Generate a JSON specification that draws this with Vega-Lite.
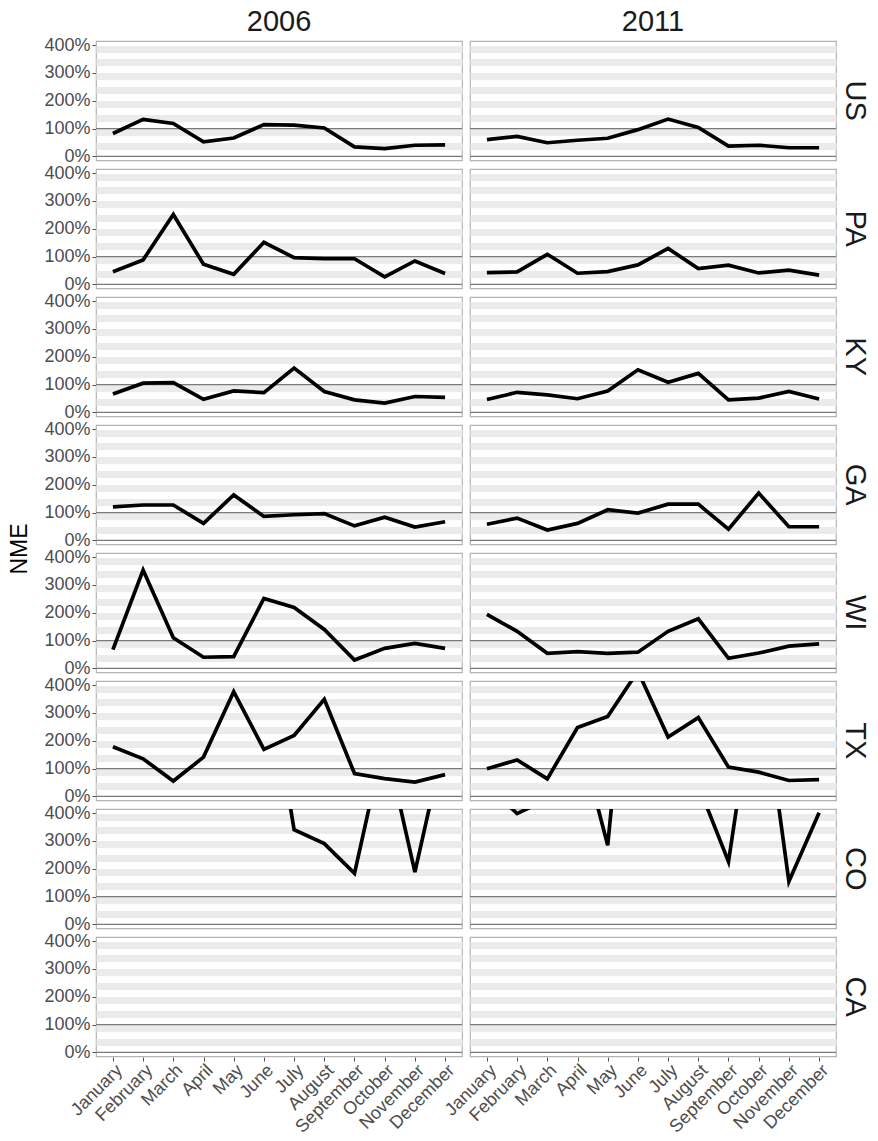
{
  "$schema": "https://vega.github.io/schema/vega-lite/v6.json",
  "background": "white",
  "padding": {"left": 9, "top": 8, "right": 2, "bottom": 2},
  "bounds": "flush",
  "data": {"values": [
    {"state":"US","year":"2006","month":"January","nme":0.82},
    {"state":"US","year":"2006","month":"February","nme":1.33},
    {"state":"US","year":"2006","month":"March","nme":1.18},
    {"state":"US","year":"2006","month":"April","nme":0.52},
    {"state":"US","year":"2006","month":"May","nme":0.66},
    {"state":"US","year":"2006","month":"June","nme":1.14},
    {"state":"US","year":"2006","month":"July","nme":1.12},
    {"state":"US","year":"2006","month":"August","nme":1.02},
    {"state":"US","year":"2006","month":"September","nme":0.34},
    {"state":"US","year":"2006","month":"October","nme":0.28},
    {"state":"US","year":"2006","month":"November","nme":0.40},
    {"state":"US","year":"2006","month":"December","nme":0.41},
    {"state":"US","year":"2011","month":"January","nme":0.60},
    {"state":"US","year":"2011","month":"February","nme":0.72},
    {"state":"US","year":"2011","month":"March","nme":0.49},
    {"state":"US","year":"2011","month":"April","nme":0.58},
    {"state":"US","year":"2011","month":"May","nme":0.65},
    {"state":"US","year":"2011","month":"June","nme":0.96},
    {"state":"US","year":"2011","month":"July","nme":1.34},
    {"state":"US","year":"2011","month":"August","nme":1.04},
    {"state":"US","year":"2011","month":"September","nme":0.37},
    {"state":"US","year":"2011","month":"October","nme":0.40},
    {"state":"US","year":"2011","month":"November","nme":0.31},
    {"state":"US","year":"2011","month":"December","nme":0.31},
    {"state":"PA","year":"2006","month":"January","nme":0.45},
    {"state":"PA","year":"2006","month":"February","nme":0.88},
    {"state":"PA","year":"2006","month":"March","nme":2.51},
    {"state":"PA","year":"2006","month":"April","nme":0.72},
    {"state":"PA","year":"2006","month":"May","nme":0.36},
    {"state":"PA","year":"2006","month":"June","nme":1.51},
    {"state":"PA","year":"2006","month":"July","nme":0.96},
    {"state":"PA","year":"2006","month":"August","nme":0.92},
    {"state":"PA","year":"2006","month":"September","nme":0.92},
    {"state":"PA","year":"2006","month":"October","nme":0.27},
    {"state":"PA","year":"2006","month":"November","nme":0.84},
    {"state":"PA","year":"2006","month":"December","nme":0.39},
    {"state":"PA","year":"2011","month":"January","nme":0.42},
    {"state":"PA","year":"2011","month":"February","nme":0.45},
    {"state":"PA","year":"2011","month":"March","nme":1.08},
    {"state":"PA","year":"2011","month":"April","nme":0.40},
    {"state":"PA","year":"2011","month":"May","nme":0.46},
    {"state":"PA","year":"2011","month":"June","nme":0.70},
    {"state":"PA","year":"2011","month":"July","nme":1.29},
    {"state":"PA","year":"2011","month":"August","nme":0.57},
    {"state":"PA","year":"2011","month":"September","nme":0.69},
    {"state":"PA","year":"2011","month":"October","nme":0.41},
    {"state":"PA","year":"2011","month":"November","nme":0.51},
    {"state":"PA","year":"2011","month":"December","nme":0.33},
    {"state":"KY","year":"2006","month":"January","nme":0.66},
    {"state":"KY","year":"2006","month":"February","nme":1.05},
    {"state":"KY","year":"2006","month":"March","nme":1.07},
    {"state":"KY","year":"2006","month":"April","nme":0.47},
    {"state":"KY","year":"2006","month":"May","nme":0.77},
    {"state":"KY","year":"2006","month":"June","nme":0.71},
    {"state":"KY","year":"2006","month":"July","nme":1.59},
    {"state":"KY","year":"2006","month":"August","nme":0.75},
    {"state":"KY","year":"2006","month":"September","nme":0.45},
    {"state":"KY","year":"2006","month":"October","nme":0.33},
    {"state":"KY","year":"2006","month":"November","nme":0.57},
    {"state":"KY","year":"2006","month":"December","nme":0.54},
    {"state":"KY","year":"2011","month":"January","nme":0.46},
    {"state":"KY","year":"2011","month":"February","nme":0.72},
    {"state":"KY","year":"2011","month":"March","nme":0.63},
    {"state":"KY","year":"2011","month":"April","nme":0.49},
    {"state":"KY","year":"2011","month":"May","nme":0.77},
    {"state":"KY","year":"2011","month":"June","nme":1.53},
    {"state":"KY","year":"2011","month":"July","nme":1.08},
    {"state":"KY","year":"2011","month":"August","nme":1.40},
    {"state":"KY","year":"2011","month":"September","nme":0.45},
    {"state":"KY","year":"2011","month":"October","nme":0.51},
    {"state":"KY","year":"2011","month":"November","nme":0.75},
    {"state":"KY","year":"2011","month":"December","nme":0.48},
    {"state":"GA","year":"2006","month":"January","nme":1.20},
    {"state":"GA","year":"2006","month":"February","nme":1.27},
    {"state":"GA","year":"2006","month":"March","nme":1.27},
    {"state":"GA","year":"2006","month":"April","nme":0.61},
    {"state":"GA","year":"2006","month":"May","nme":1.63},
    {"state":"GA","year":"2006","month":"June","nme":0.86},
    {"state":"GA","year":"2006","month":"July","nme":0.92},
    {"state":"GA","year":"2006","month":"August","nme":0.96},
    {"state":"GA","year":"2006","month":"September","nme":0.52},
    {"state":"GA","year":"2006","month":"October","nme":0.83},
    {"state":"GA","year":"2006","month":"November","nme":0.48},
    {"state":"GA","year":"2006","month":"December","nme":0.67},
    {"state":"GA","year":"2011","month":"January","nme":0.58},
    {"state":"GA","year":"2011","month":"February","nme":0.80},
    {"state":"GA","year":"2011","month":"March","nme":0.37},
    {"state":"GA","year":"2011","month":"April","nme":0.61},
    {"state":"GA","year":"2011","month":"May","nme":1.10},
    {"state":"GA","year":"2011","month":"June","nme":0.98},
    {"state":"GA","year":"2011","month":"July","nme":1.30},
    {"state":"GA","year":"2011","month":"August","nme":1.30},
    {"state":"GA","year":"2011","month":"September","nme":0.40},
    {"state":"GA","year":"2011","month":"October","nme":1.70},
    {"state":"GA","year":"2011","month":"November","nme":0.49},
    {"state":"GA","year":"2011","month":"December","nme":0.49},
    {"state":"WI","year":"2006","month":"January","nme":0.67},
    {"state":"WI","year":"2006","month":"February","nme":3.53},
    {"state":"WI","year":"2006","month":"March","nme":1.10},
    {"state":"WI","year":"2006","month":"April","nme":0.40},
    {"state":"WI","year":"2006","month":"May","nme":0.42},
    {"state":"WI","year":"2006","month":"June","nme":2.51},
    {"state":"WI","year":"2006","month":"July","nme":2.19},
    {"state":"WI","year":"2006","month":"August","nme":1.40},
    {"state":"WI","year":"2006","month":"September","nme":0.30},
    {"state":"WI","year":"2006","month":"October","nme":0.72},
    {"state":"WI","year":"2006","month":"November","nme":0.90},
    {"state":"WI","year":"2006","month":"December","nme":0.72},
    {"state":"WI","year":"2011","month":"January","nme":1.94},
    {"state":"WI","year":"2011","month":"February","nme":1.33},
    {"state":"WI","year":"2011","month":"March","nme":0.54},
    {"state":"WI","year":"2011","month":"April","nme":0.60},
    {"state":"WI","year":"2011","month":"May","nme":0.54},
    {"state":"WI","year":"2011","month":"June","nme":0.58},
    {"state":"WI","year":"2011","month":"July","nme":1.33},
    {"state":"WI","year":"2011","month":"August","nme":1.78},
    {"state":"WI","year":"2011","month":"September","nme":0.36},
    {"state":"WI","year":"2011","month":"October","nme":0.55},
    {"state":"WI","year":"2011","month":"November","nme":0.80},
    {"state":"WI","year":"2011","month":"December","nme":0.88},
    {"state":"TX","year":"2006","month":"January","nme":1.78},
    {"state":"TX","year":"2006","month":"February","nme":1.35},
    {"state":"TX","year":"2006","month":"March","nme":0.55},
    {"state":"TX","year":"2006","month":"April","nme":1.41},
    {"state":"TX","year":"2006","month":"May","nme":3.76},
    {"state":"TX","year":"2006","month":"June","nme":1.69},
    {"state":"TX","year":"2006","month":"July","nme":2.19},
    {"state":"TX","year":"2006","month":"August","nme":3.49},
    {"state":"TX","year":"2006","month":"September","nme":0.82},
    {"state":"TX","year":"2006","month":"October","nme":0.64},
    {"state":"TX","year":"2006","month":"November","nme":0.51},
    {"state":"TX","year":"2006","month":"December","nme":0.78},
    {"state":"TX","year":"2011","month":"January","nme":0.99},
    {"state":"TX","year":"2011","month":"February","nme":1.31},
    {"state":"TX","year":"2011","month":"March","nme":0.63},
    {"state":"TX","year":"2011","month":"April","nme":2.47},
    {"state":"TX","year":"2011","month":"May","nme":2.87},
    {"state":"TX","year":"2011","month":"June","nme":4.5},
    {"state":"TX","year":"2011","month":"July","nme":2.13},
    {"state":"TX","year":"2011","month":"August","nme":2.83},
    {"state":"TX","year":"2011","month":"September","nme":1.05},
    {"state":"TX","year":"2011","month":"October","nme":0.87},
    {"state":"TX","year":"2011","month":"November","nme":0.57},
    {"state":"TX","year":"2011","month":"December","nme":0.60},
    {"state":"CO","year":"2006","month":"January","nme":9.0},
    {"state":"CO","year":"2006","month":"February","nme":11.0},
    {"state":"CO","year":"2006","month":"March","nme":8.0},
    {"state":"CO","year":"2006","month":"April","nme":12.0},
    {"state":"CO","year":"2006","month":"May","nme":10.0},
    {"state":"CO","year":"2006","month":"June","nme":10.0},
    {"state":"CO","year":"2006","month":"July","nme":3.40},
    {"state":"CO","year":"2006","month":"August","nme":2.90},
    {"state":"CO","year":"2006","month":"September","nme":1.83},
    {"state":"CO","year":"2006","month":"October","nme":6.7},
    {"state":"CO","year":"2006","month":"November","nme":1.88},
    {"state":"CO","year":"2006","month":"December","nme":6.7},
    {"state":"CO","year":"2011","month":"January","nme":5.0},
    {"state":"CO","year":"2011","month":"February","nme":3.98},
    {"state":"CO","year":"2011","month":"March","nme":4.5},
    {"state":"CO","year":"2011","month":"April","nme":7.0},
    {"state":"CO","year":"2011","month":"May","nme":2.84},
    {"state":"CO","year":"2011","month":"June","nme":14.0},
    {"state":"CO","year":"2011","month":"July","nme":9.0},
    {"state":"CO","year":"2011","month":"August","nme":5.0},
    {"state":"CO","year":"2011","month":"September","nme":2.25},
    {"state":"CO","year":"2011","month":"October","nme":9.5},
    {"state":"CO","year":"2011","month":"November","nme":1.54},
    {"state":"CO","year":"2011","month":"December","nme":4.01},
    {"state":"CA","year":"2006","month":"January","nme":7.5},
    {"state":"CA","year":"2006","month":"February","nme":9.0},
    {"state":"CA","year":"2006","month":"March","nme":11.0},
    {"state":"CA","year":"2006","month":"April","nme":8.0},
    {"state":"CA","year":"2006","month":"May","nme":10.0},
    {"state":"CA","year":"2006","month":"June","nme":12.0},
    {"state":"CA","year":"2006","month":"July","nme":9.0},
    {"state":"CA","year":"2006","month":"August","nme":8.5},
    {"state":"CA","year":"2006","month":"September","nme":7.0},
    {"state":"CA","year":"2006","month":"October","nme":8.0},
    {"state":"CA","year":"2006","month":"November","nme":9.5},
    {"state":"CA","year":"2006","month":"December","nme":10.0},
    {"state":"CA","year":"2011","month":"January","nme":8.0},
    {"state":"CA","year":"2011","month":"February","nme":10.0},
    {"state":"CA","year":"2011","month":"March","nme":9.0},
    {"state":"CA","year":"2011","month":"April","nme":7.5},
    {"state":"CA","year":"2011","month":"May","nme":11.0},
    {"state":"CA","year":"2011","month":"June","nme":13.0},
    {"state":"CA","year":"2011","month":"July","nme":10.0},
    {"state":"CA","year":"2011","month":"August","nme":9.0},
    {"state":"CA","year":"2011","month":"September","nme":8.0},
    {"state":"CA","year":"2011","month":"October","nme":9.0},
    {"state":"CA","year":"2011","month":"November","nme":7.0},
    {"state":"CA","year":"2011","month":"December","nme":8.0}
  ]},
  "facet": {
    "row": {
      "field": "state", "type": "nominal",
      "sort": ["US","PA","KY","GA","WI","TX","CO","CA"],
      "title": "NME",
      "header": {
        "labelOrient": "right", "labelAngle": 90, "labelFontSize": 29, "labelColor": "#1a1a1a",
        "labelFont": "Liberation Sans", "labelPadding": 4,
        "titleOrient": "left", "titleAngle": -90, "titleFontSize": 23, "titleFontWeight": "normal",
        "titleFont": "Liberation Sans", "titleColor": "black", "titlePadding": -22
      }
    },
    "column": {
      "field": "year", "type": "nominal",
      "title": null,
      "header": {
        "labelFontSize": 29, "labelColor": "#1a1a1a", "labelFont": "Liberation Sans", "labelPadding": 4
      }
    }
  },
  "spacing": {"row": 8, "column": 8},
  "spec": {
    "width": 366,
    "height": 119.4,
    "encoding": {
      "x": {
        "field": "month", "type": "ordinal",
        "sort": ["January","February","March","April","May","June","July","August","September","October","November","December"],
        "scale": {"type": "point", "padding": 0.56},
        "axis": {
          "title": null, "labelAngle": -45, "labelAlign": "right", "labelBaseline": "top",
          "labelFontSize": 18, "labelColor": "#4d4d4d", "labelFont": "Liberation Sans",
          "tickColor": "#4d4d4d", "tickSize": 4, "labelPadding": 0, "domain": false, "grid": false
        }
      },
      "y": {
        "field": "nme", "type": "quantitative",
        "scale": {"domain": [-0.145, 4.145], "nice": false, "zero": false},
        "axis": {
          "title": null,
          "values": [0, 0.375, 0.875, 1, 1.375, 1.875, 2, 2.375, 2.875, 3, 3.375, 3.875, 4],
          "labelExpr": "datum.value % 1 == 0 ? format(datum.value, '.0%') : ''",
          "labelFontSize": 18, "labelColor": "#4d4d4d", "labelFont": "Liberation Sans", "labelPadding": 2,
          "tickSize": 4, "tickColor": "#4d4d4d",
          "tickOpacity": {"condition": {"test": "datum.value % 1 == 0", "value": 1}, "value": 0},
          "grid": true, "gridColor": "#ebebeb", "gridWidth": 7,
          "gridOpacity": {"condition": {"test": "datum.value % 1 == 0", "value": 0}, "value": 1},
          "domain": false
        }
      }
    },
    "layer": [
      {
        "transform": [{"filter": "datum.month == 'January'"}],
        "mark": {"type": "rule", "color": "#7a7a7a", "strokeWidth": 1.2},
        "encoding": {"y": {"datum": 1}, "x": {"value": 0}, "x2": {"value": 366}}
      },
      {
        "transform": [{"filter": "datum.month == 'January'"}],
        "mark": {"type": "rule", "color": "#7a7a7a", "strokeWidth": 1.2},
        "encoding": {"y": {"datum": 0}, "x": {"value": 0}, "x2": {"value": 366}}
      },
      {
        "mark": {"type": "line", "color": "black", "strokeWidth": 3.7, "clip": true, "strokeJoin": "miter"},
        "encoding": {}
      }
    ]
  },
  "config": {
    "font": "Liberation Sans",
    "view": {"stroke": "#b3b3b3", "strokeWidth": 1.2}
  }
}
